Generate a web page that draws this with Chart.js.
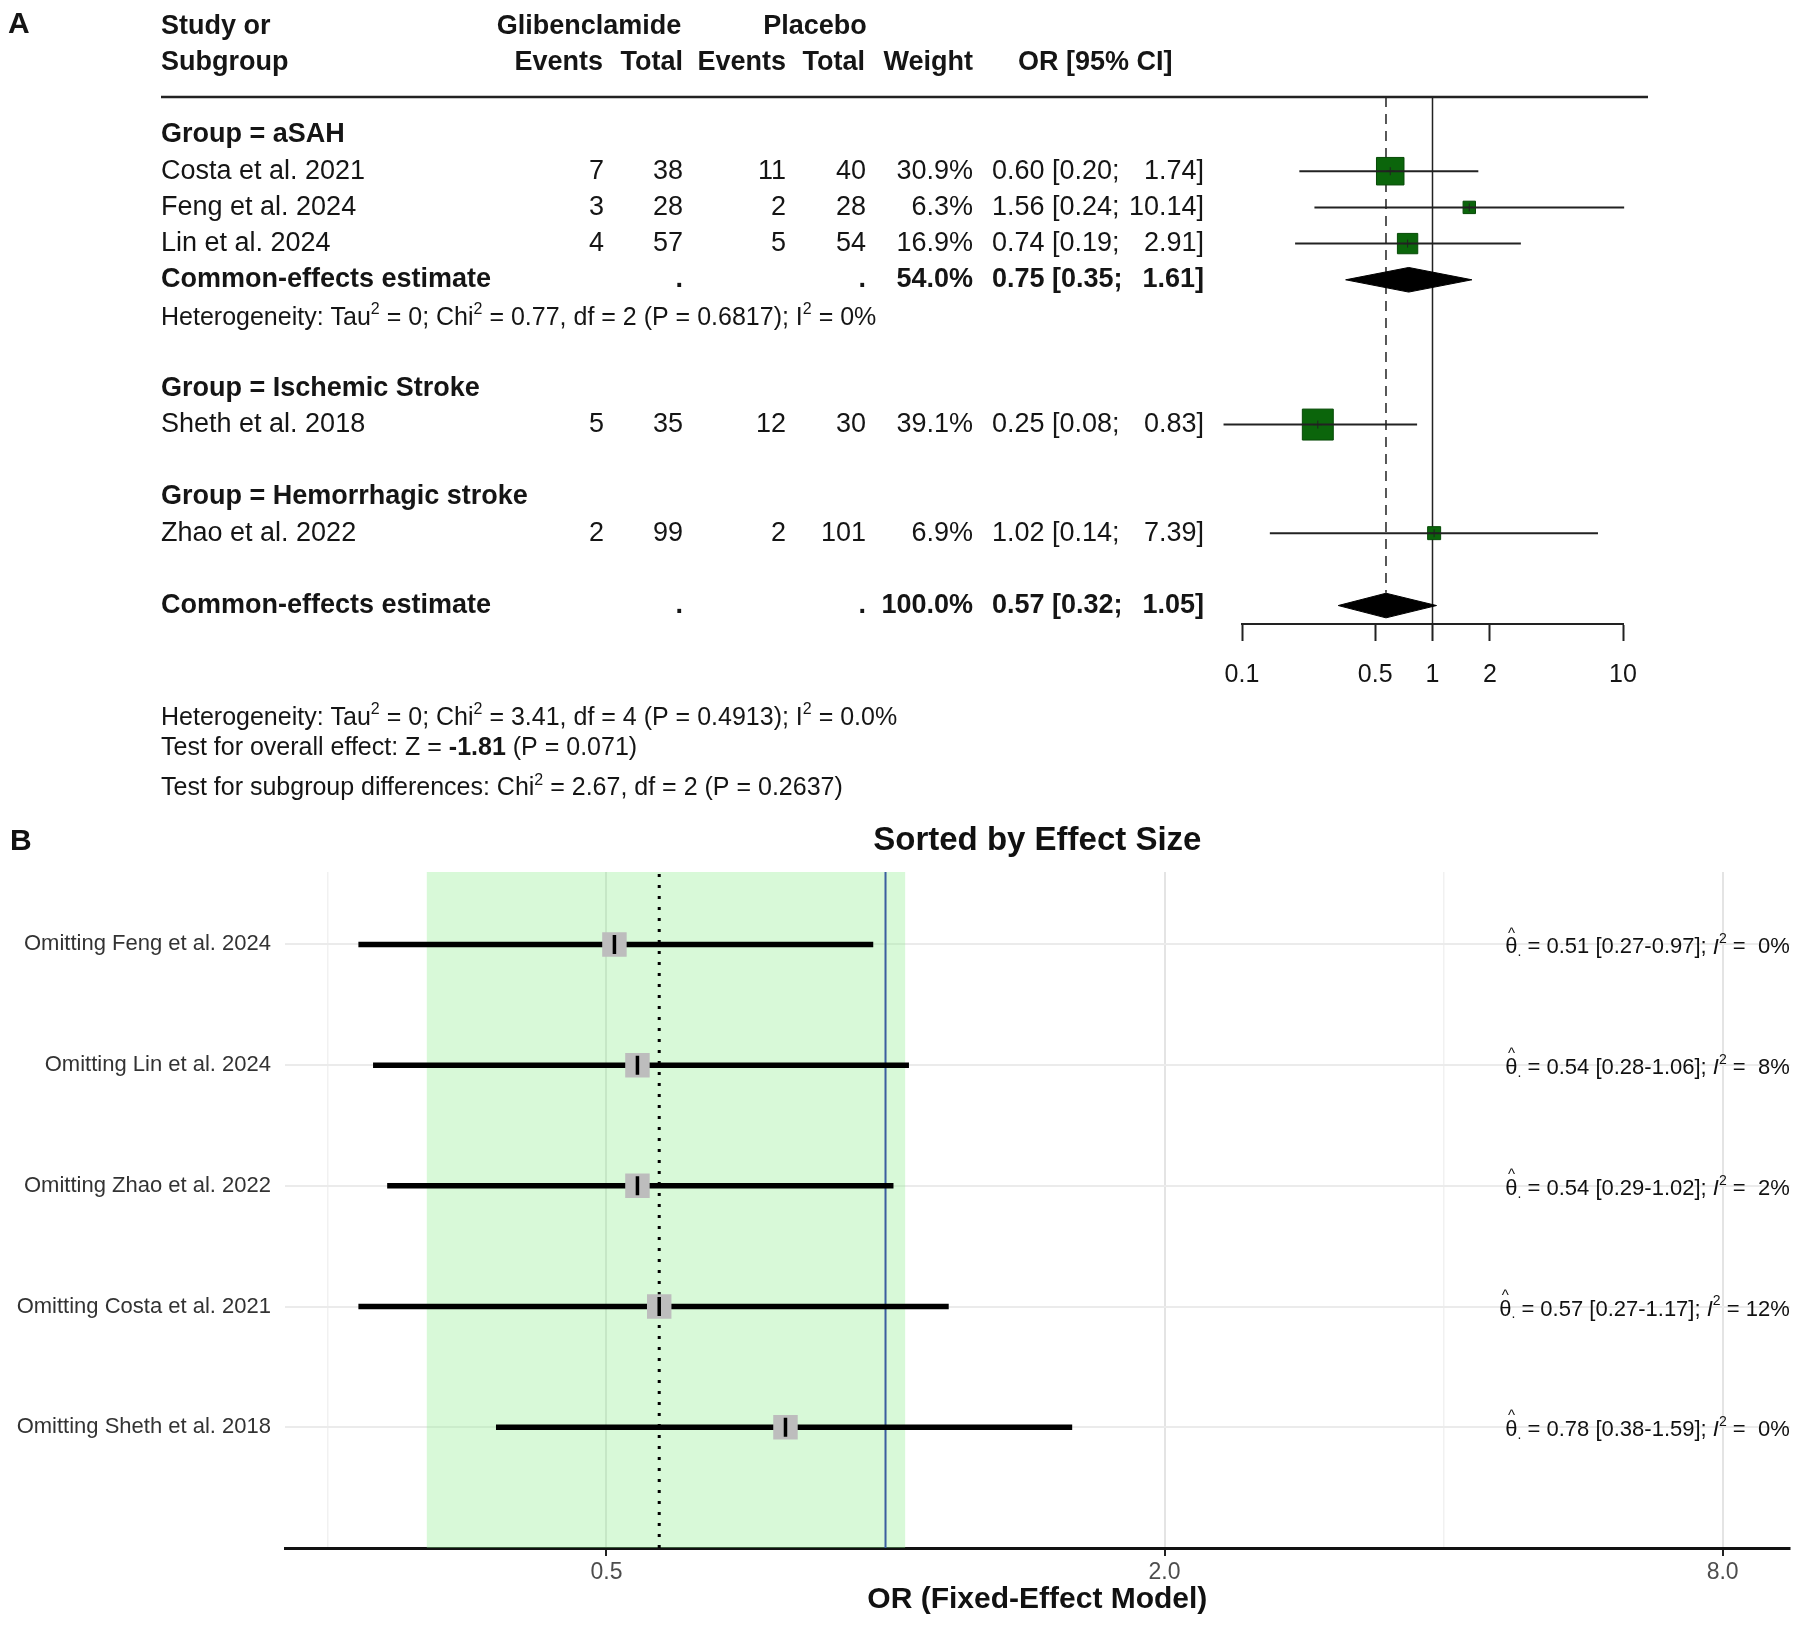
<!DOCTYPE html>
<html>
<head>
<meta charset="utf-8">
<script src="https://cdn.jsdelivr.net/npm/chart.js@4.4.1/dist/chart.umd.min.js"></script>
<style>
  html, body { margin: 0; padding: 0; background: #fff; }
  #wrap { position: relative; width: 1807px; height: 1634px; }
  canvas { position: absolute; left: 0; }
  #forest { top: 0; width: 1807px; height: 810px; }
  #loo { top: 810px; width: 1807px; height: 824px; }
</style>
</head>
<body>
<div id="wrap">
  <canvas id="forest" width="1807" height="810"></canvas>
  <canvas id="loo" width="1807" height="824"></canvas>
</div>
<script>
// ---- panel A data (forest plot) ----
const studies = ['Costa et al. 2021', 'Feng et al. 2024', 'Lin et al. 2024', 'Sheth et al. 2018', 'Zhao et al. 2022'];
const studyRows = [1, 2, 3, 8, 11];
const gliEvents = [7, 3, 4, 5, 2];
const gliTotal = [38, 28, 57, 35, 99];
const plaEvents = [11, 2, 5, 12, 2];
const plaTotal = [40, 28, 54, 30, 101];
const weights = [30.9, 6.3, 16.9, 39.1, 6.9];
const orEst = [0.60, 1.56, 0.74, 0.25, 1.02];
const orLow = [0.20, 0.24, 0.19, 0.08, 0.14];
const orHigh = [1.74, 10.14, 2.91, 0.83, 7.39];

const groupLabels = ['Group = aSAH', 'Group = Ischemic Stroke', 'Group = Hemorrhagic stroke'];
const groupRows = [0, 7, 10];

const pooledRows = [4, 13];
const pooledWeight = [54.0, 100.0];
const pooledEst = [0.75, 0.57];
const pooledLow = [0.35, 0.32];
const pooledHigh = [1.61, 1.05];

const ticksA = [0.1, 0.5, 1, 2, 10];

// ---- panel B data (leave-one-out) ----
const omitLabels = ['Omitting Feng et al. 2024', 'Omitting Lin et al. 2024', 'Omitting Zhao et al. 2022',
                    'Omitting Costa et al. 2021', 'Omitting Sheth et al. 2018'];
const omitEst = [0.51, 0.54, 0.54, 0.57, 0.78];
const omitLow = [0.27, 0.28, 0.29, 0.27, 0.38];
const omitHigh = [0.97, 1.06, 1.02, 1.17, 1.59];
const omitI2 = [0, 8, 2, 12, 0];
const pooledB = [0.57, 0.32, 1.05]; // estimate, lower, upper
const ticksB = [0.5, 2, 8];
const minorB = [0.25, 1, 4];

const FONT = '"Liberation Sans", Arial, Helvetica, sans-serif';
Chart.defaults.font.family = FONT;
const fnt = (size, style) => (style ? style + ' ' : '') + size + 'px ' + FONT;

function txt(ctx, s, x, y, font, align) {
  ctx.font = font;
  ctx.textAlign = align || 'left';
  ctx.fillText(s, x, y);
}

// draw runs of text with different fonts / offsets (superscripts, hats)
function rich(ctx, parts, x, y, align) {
  let w = 0;
  for (const p of parts) { ctx.font = p[1]; w += ctx.measureText(p[0]).width; }
  let cx = align === 'right' ? x - w : x;
  ctx.textAlign = 'left';
  for (const p of parts) {
    ctx.font = p[1];
    const pw = ctx.measureText(p[0]).width;
    ctx.fillText(p[0], cx, y + (p[2] || 0));
    if (p[3] === 'hat') {
      ctx.font = fnt(15);
      ctx.textAlign = 'center';
      ctx.fillText('^', cx + pw / 2, y - 14);
      ctx.textAlign = 'left';
    }
    cx += pw;
  }
}

// ================= Panel A =================
const yTopA = -1.05, yBotA = 13.51;

const textA = {
  id: 'textA',
  afterDraw(chart) {
    const ctx = chart.ctx;
    const py = r => chart.scales.y.getPixelForValue(r);
    const b27 = fnt(27, 'bold'), n27 = fnt(27), n25 = fnt(25), b25 = fnt(25, 'bold'), s16 = fnt(16);
    ctx.save();
    ctx.fillStyle = '#151515';
    ctx.textBaseline = 'middle';

    txt(ctx, 'A', 8, 25, fnt(30, 'bold'));

    // header
    const h1 = py(-3), h2 = py(-2);
    txt(ctx, 'Study or', 161, h1, b27);
    txt(ctx, 'Subgroup', 161, h2, b27);
    txt(ctx, 'Glibenclamide', 589, h1, b27, 'center');
    txt(ctx, 'Placebo', 815, h1, b27, 'center');
    txt(ctx, 'Events', 603, h2, b27, 'right');
    txt(ctx, 'Total', 683, h2, b27, 'right');
    txt(ctx, 'Events', 786, h2, b27, 'right');
    txt(ctx, 'Total', 865, h2, b27, 'right');
    txt(ctx, 'Weight', 973, h2, b27, 'right');
    txt(ctx, 'OR [95% CI]', 1018, h2, b27);

    // rule under header
    ctx.strokeStyle = '#222';
    ctx.lineWidth = 2.5;
    ctx.beginPath();
    ctx.moveTo(161, chart.chartArea.top);
    ctx.lineTo(1648, chart.chartArea.top);
    ctx.stroke();

    groupLabels.forEach((g, i) => txt(ctx, g, 161, py(groupRows[i]), b27));

    studies.forEach((s, i) => {
      const y = py(studyRows[i]);
      txt(ctx, s, 161, y, n27);
      txt(ctx, String(gliEvents[i]), 604, y, n27, 'right');
      txt(ctx, String(gliTotal[i]), 683, y, n27, 'right');
      txt(ctx, String(plaEvents[i]), 786, y, n27, 'right');
      txt(ctx, String(plaTotal[i]), 866, y, n27, 'right');
      txt(ctx, weights[i].toFixed(1) + '%', 973, y, n27, 'right');
      txt(ctx, orEst[i].toFixed(2) + ' [' + orLow[i].toFixed(2) + ';', 992, y, n27);
      txt(ctx, orHigh[i].toFixed(2) + ']', 1204, y, n27, 'right');
    });

    pooledRows.forEach((r, i) => {
      const y = py(r);
      txt(ctx, 'Common-effects estimate', 161, y, b27);
      txt(ctx, '.', 683, y, b27, 'right');
      txt(ctx, '.', 866, y, b27, 'right');
      txt(ctx, pooledWeight[i].toFixed(1) + '%', 973, y, b27, 'right');
      txt(ctx, pooledEst[i].toFixed(2) + ' [' + pooledLow[i].toFixed(2) + ';', 992, y, b27);
      txt(ctx, pooledHigh[i].toFixed(2) + ']', 1204, y, b27, 'right');
    });

    rich(ctx, [['Heterogeneity: Tau', n25], ['2', s16, -8], [' = 0; Chi', n25], ['2', s16, -8],
               [' = 0.77, df = 2 (P = 0.6817); I', n25], ['2', s16, -8], [' = 0%', n25]], 161, py(5.05));

    rich(ctx, [['Heterogeneity: Tau', n25], ['2', s16, -8], [' = 0; Chi', n25], ['2', s16, -8],
               [' = 3.41, df = 4 (P = 0.4913); I', n25], ['2', s16, -8], [' = 0.0%', n25]], 161, py(16.1));
    rich(ctx, [['Test for overall effect: Z = ', n25], ['-1.81', b25], [' (P = 0.071)', n25]], 161, py(16.95));
    rich(ctx, [['Test for subgroup differences: Chi', n25], ['2', s16, -8],
               [' = 2.67, df = 2 (P = 0.2637)', n25]], 161, py(18.05));
    ctx.restore();
  }
};

const dsA = [];
// reference lines
dsA.push({ type: 'line', data: [{ x: 1, y: yTopA }, { x: 1, y: yBotA }],
  borderColor: '#222', borderWidth: 1.5, pointRadius: 0, order: 6 });
dsA.push({ type: 'line', data: [{ x: pooledEst[1], y: yTopA }, { x: pooledEst[1], y: pooledRows[1] - 0.35 }],
  borderColor: '#222', borderWidth: 1.5, borderDash: [10, 7], pointRadius: 0, order: 6 });
// pooled diamonds
pooledRows.forEach((r, i) => {
  dsA.push({ type: 'line', data: [
      { x: pooledLow[i], y: r }, { x: pooledEst[i], y: r - 0.34 }, { x: pooledHigh[i], y: r },
      { x: pooledEst[i], y: r + 0.34 }, { x: pooledLow[i], y: r }],
    borderColor: '#000', borderWidth: 1, backgroundColor: '#000', fill: 'shape', pointRadius: 0, order: 5 });
});
// study squares (area ~ weight)
dsA.push({ type: 'scatter', data: studyRows.map((r, i) => ({ x: orEst[i], y: r })),
  pointStyle: 'rect', pointRadius: weights.map(w => 4.95 * Math.sqrt(w) / Math.SQRT2),
  backgroundColor: '#0b650b', borderColor: '#074a07', borderWidth: 1, order: 4, clip: false });
// confidence intervals (may run past the axis range, as in the original)
studyRows.forEach((r, i) => {
  dsA.push({ type: 'line', data: [{ x: orLow[i], y: r }, { x: orHigh[i], y: r }],
    borderColor: '#222', borderWidth: 2, pointRadius: 0, order: 3, clip: false });
});
// small cross at each estimate
dsA.push({ type: 'scatter', data: studyRows.map((r, i) => ({ x: orEst[i], y: r })),
  pointStyle: 'cross', pointRadius: 4, borderColor: '#222', borderWidth: 1, order: 2, clip: false });

new Chart(document.getElementById('forest'), {
  type: 'scatter',
  data: { datasets: dsA },
  options: {
    responsive: false,
    animation: false,
    layout: { padding: { left: 1242, right: 184, top: 97, bottom: 126 } },
    plugins: { legend: { display: false }, tooltip: { enabled: false } },
    scales: {
      x: {
        type: 'logarithmic', min: 0.1, max: 10,
        afterBuildTicks: s => { s.ticks = ticksA.map(v => ({ value: v })); },
        afterFit: s => { s.height = 60; },
        ticks: { callback: v => String(v), font: { size: 25 }, color: '#151515', padding: 19, autoSkip: false, maxRotation: 0 },
        grid: { drawOnChartArea: false, tickLength: 17, tickWidth: 2, tickColor: '#222' },
        border: { color: '#222', width: 2 }
      },
      y: { type: 'linear', reverse: true, min: yTopA, max: yBotA, display: false }
    }
  },
  plugins: [textA]
});

// ================= Panel B =================
const nB = omitLabels.length;
const omitY = omitLabels.map((_, i) => nB - i);
const gridB = ticksB.concat(minorB).sort((a, b) => a - b);
const isMajor = v => ticksB.includes(v);

const bandB = {
  id: 'bandB',
  beforeDatasetsDraw(chart) {
    const { ctx, chartArea: a, scales: { x } } = chart;
    const x0 = x.getPixelForValue(pooledB[1]), x1 = x.getPixelForValue(pooledB[2]);
    ctx.save();
    ctx.fillStyle = 'rgba(144, 238, 144, 0.35)';
    ctx.fillRect(x0, a.top, x1 - x0, a.bottom - a.top);
    ctx.restore();
  }
};

const textB = {
  id: 'textB',
  afterDraw(chart) {
    const ctx = chart.ctx;
    const a = chart.chartArea;
    const py = v => chart.scales.y.getPixelForValue(v);
    const n22 = fnt(22), s14 = fnt(14);
    ctx.save();
    ctx.fillStyle = '#111';
    ctx.textBaseline = 'middle';
    txt(ctx, 'B', 10, 32, fnt(30, 'bold'));
    const cx = (a.left + a.right) / 2;
    txt(ctx, 'Sorted by Effect Size', cx, 31, fnt(33, 'bold'), 'center');
    txt(ctx, 'OR (Fixed-Effect Model)', cx, 790, fnt(30, 'bold'), 'center');
    omitLabels.forEach((_, i) => {
      const pad = omitI2[i] < 10 ? '  ' : ' ';
      rich(ctx, [['θ', n22, 0, 'hat'], ['.', s14, 5],
        [' = ' + omitEst[i].toFixed(2) + ' [' + omitLow[i].toFixed(2) + '-' + omitHigh[i].toFixed(2) + ']; ', n22],
        ['I', fnt(22, 'italic')], ['2', s14, -8], [' =' + pad + omitI2[i] + '%', n22]], a.right, py(omitY[i]) + 3, 'right');
    });
    ctx.restore();
  }
};

const dsB = [];
// black tick at each estimate
dsB.push({ type: 'scatter', data: omitEst.map((v, i) => ({ x: v, y: omitY[i] })),
  pointStyle: 'line', rotation: 90, pointRadius: 9.5, borderColor: '#000', borderWidth: 3.5, order: 1 });
// grey box at each estimate
dsB.push({ type: 'scatter', data: omitEst.map((v, i) => ({ x: v, y: omitY[i] })),
  pointStyle: 'rect', pointRadius: 17.3, backgroundColor: '#bdbdbd', borderWidth: 0, order: 2 });
// intervals
omitY.forEach((y, i) => {
  dsB.push({ type: 'line', data: [{ x: omitLow[i], y }, { x: omitHigh[i], y }],
    borderColor: '#000', borderWidth: 5.5, pointRadius: 0, order: 3 });
});
// pooled estimate (dotted) and no-effect line (blue)
dsB.push({ type: 'line', data: [{ x: pooledB[0], y: 0 }, { x: pooledB[0], y: 5.6 }],
  borderColor: '#000', borderWidth: 3, borderDash: [3, 8], pointRadius: 0, order: 4 });
dsB.push({ type: 'line', data: [{ x: 1, y: 0 }, { x: 1, y: 5.6 }],
  borderColor: '#3b5f9f', borderWidth: 2, pointRadius: 0, order: 4 });

new Chart(document.getElementById('loo'), {
  type: 'scatter',
  data: { datasets: dsB },
  options: {
    responsive: false,
    animation: false,
    layout: { padding: { left: 0, right: 11, top: 62, bottom: 0 } },
    plugins: { legend: { display: false }, tooltip: { enabled: false } },
    scales: {
      x: {
        type: 'logarithmic', min: 0.225, max: 9.45,
        afterBuildTicks: s => { s.ticks = gridB.map(v => ({ value: v })); },
        afterFit: s => { s.height = 86; },
        ticks: { callback: v => isMajor(v) ? v.toFixed(1) : '', font: { size: 23 }, color: '#4d4d4d',
                 padding: 3, autoSkip: false, maxRotation: 0 },
        grid: {
          color: c => isMajor(c.tick && c.tick.value) ? '#e4e4e4' : '#f1f1f1',
          lineWidth: c => isMajor(c.tick && c.tick.value) ? 2 : 1.5,
          tickLength: 8, tickWidth: 2,
          tickColor: c => isMajor(c.tick && c.tick.value) ? '#222' : 'rgba(0,0,0,0)'
        },
        border: { color: '#111', width: 3 }
      },
      y: {
        type: 'linear', min: 0, max: 5.6,
        afterBuildTicks: s => { s.ticks = omitY.map(v => ({ value: v })); },
        afterFit: s => { s.width = 285; },
        ticks: { callback: v => omitLabels[nB - v], font: { size: 22 }, color: '#333', padding: 14, autoSkip: false },
        grid: { color: '#ebebeb', lineWidth: 2, drawTicks: false },
        border: { display: false }
      }
    }
  },
  plugins: [bandB, textB]
});
</script>
</body>
</html>
